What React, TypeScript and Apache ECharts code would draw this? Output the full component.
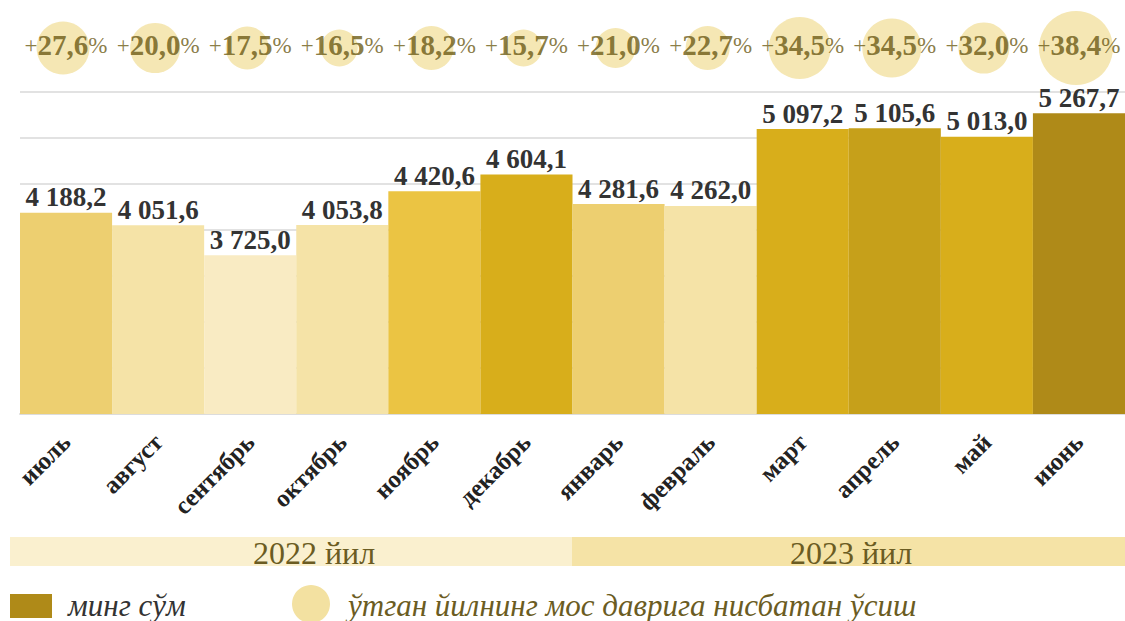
import React, { useEffect, useRef } from "react";
import * as echarts from "echarts";

const months = ["июль", "август", "сентябрь", "октябрь", "ноябрь", "декабрь", "январь", "февраль", "март", "апрель", "май", "июнь"];
const values = [4188.2, 4051.6, 3725.0, 4053.8, 4420.6, 4604.1, 4281.6, 4262.0, 5097.2, 5105.6, 5013.0, 5267.7];
const growth = [27.6, 20.0, 17.5, 16.5, 18.2, 15.7, 21.0, 22.7, 34.5, 34.5, 32.0, 38.4];
const years = ["2022 йил", "2023 йил"];
const legendNames = ["минг сўм", "ўтган йилнинг мос даврига нисбатан ўсиш"];

// styling
const barColors = ["#EDCF70", "#F5E3A7", "#F9EBC3", "#F5E3A7", "#EBC443", "#D8AE1B", "#EDCF70", "#F5E3A7", "#D8AE1B", "#C6A01A", "#D8AE1B", "#AF8A18"];
const bubbleSizes = [53, 50, 43, 37, 44, 37, 40, 44, 62, 59, 51, 74];
const SERIF = "'Liberation Serif', 'Times New Roman', serif";
const OLIVE = "#6B5A14";

function fmtNum(v: number): string {
  const s = v.toFixed(1);
  const [i, d] = s.split(".");
  const iw = i.replace(/\B(?=(\d{3})+(?!\d))/g, " ");
  return iw + "," + d;
}

const txt = (text: string, x: number, y: number, size: number, color: string, align: string, italic: boolean) => ({
  type: "text",
  x,
  y,
  silent: true,
  style: {
    text,
    fontFamily: SERIF,
    fontSize: size,
    fontStyle: italic ? "italic" : "normal",
    fill: color,
    align,
    verticalAlign: "middle",
    textAlign: align,
    textVerticalAlign: "middle",
  },
});

export default function App() {
  const ref = useRef<HTMLDivElement>(null);
  useEffect(() => {
    document.body.style.margin = "0";
    const chart = echarts.init(ref.current!, null, { renderer: "svg" });
    const option: any = {
      animation: false,
      textStyle: { fontFamily: SERIF },
      grid: [
        { left: 20, right: 0, top: 92, bottom: 207 },
        { left: 20, right: 0, top: 20, height: 50 },
      ],
      xAxis: [
        {
          type: "category",
          data: months,
          gridIndex: 0,
          axisLine: { show: true, lineStyle: { color: "#dcdcdc", width: 2 } },
          axisTick: { show: false },
          axisLabel: {
            interval: 0,
            rotate: 45,
            margin: 24,
            fontFamily: SERIF,
            fontSize: 25,
            fontWeight: "bold",
            color: "#222",
          },
        },
        {
          type: "category",
          data: months,
          gridIndex: 1,
          show: false,
        },
      ],
      yAxis: [
        {
          type: "value",
          gridIndex: 0,
          min: 2000,
          max: 5500,
          interval: 500,
          axisLabel: { show: false },
          axisLine: { show: false },
          axisTick: { show: false },
          splitLine: { show: true, lineStyle: { color: "#d9d9d9", width: 1.5 } },
        },
        {
          type: "category",
          gridIndex: 1,
          data: ["g"],
          show: false,
        },
      ],
      series: [
        {
          type: "bar",
          name: legendNames[0],
          xAxisIndex: 0,
          yAxisIndex: 0,
          barCategoryGap: "0%",
          data: values.map((v, i) => ({ value: v, itemStyle: { color: barColors[i] } })),
          label: {
            show: true,
            position: "top",
            distance: 2,
            formatter: (p: any) => fmtNum(p.value),
            fontFamily: SERIF,
            fontSize: 27,
            fontWeight: "bold",
            color: "#333",
          },
        },
        {
          type: "scatter",
          name: legendNames[1],
          xAxisIndex: 1,
          yAxisIndex: 1,
          symbolSize: (_v: any, p: any) => bubbleSizes[p.dataIndex],
          symbolOffset: [-3, 3],
          itemStyle: { color: "#F3E1A1" },
          data: growth.map((g, i) => [months[i], "g", g]),
          label: {
            show: true,
            position: "inside",
            offset: [3, -3],
            formatter: (p: any) => `{s|+}{b|${fmtNum(p.value[2])}}{s|%}`,
            rich: {
              s: { fontFamily: SERIF, fontSize: 23, color: OLIVE },
              b: { fontFamily: SERIF, fontSize: 29, fontWeight: "bold", color: OLIVE },
            },
          },
        },
      ],
      graphic: [
        { type: "rect", shape: { x: 10, y: 537, width: 562, height: 29 }, style: { fill: "#FAF0CF" }, silent: true },
        { type: "rect", shape: { x: 572, y: 537, width: 553, height: 29 }, style: { fill: "#F5E3A6" }, silent: true },
        txt(years[0], 314, 553, 32, "#6B5C22", "center", false),
        txt(years[1], 851, 553, 32, "#6B5C22", "center", false),
        { type: "rect", shape: { x: 10, y: 594, width: 42, height: 24 }, style: { fill: "#AF8A18" }, silent: true },
        txt(legendNames[0], 68, 605, 31, "#333", "left", true),
        { type: "circle", shape: { cx: 311, cy: 604, r: 19 }, style: { fill: "#F3E1A1" }, silent: true },
        txt(legendNames[1], 348, 605, 31, "#6B5C22", "left", true),
      ],
    };
    chart.setOption(option);
    return () => chart.dispose();
  }, []);
  return <div ref={ref} style={{ width: 1125, height: 621 }} />;
}
